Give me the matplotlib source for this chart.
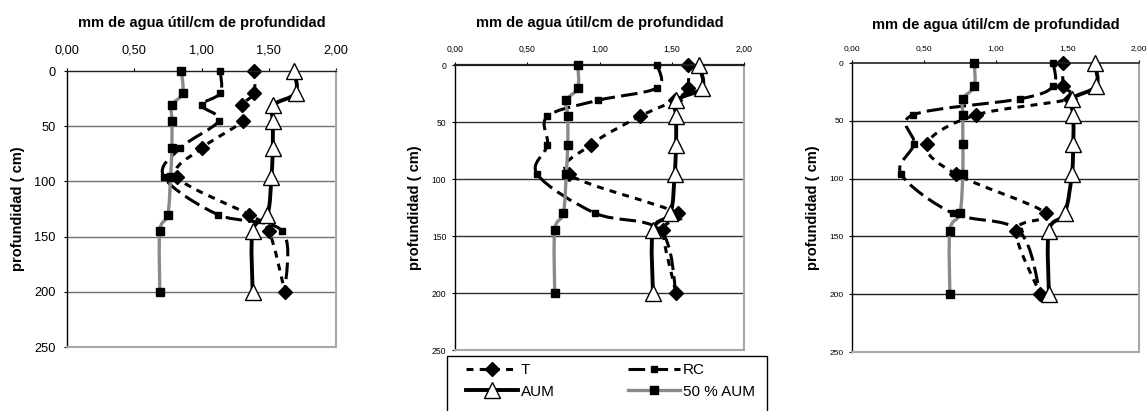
import numpy as np
import matplotlib
matplotlib.use("Agg")
import matplotlib.pyplot as plt
from matplotlib.path import Path
from matplotlib.patches import PathPatch, Rectangle
from matplotlib.lines import Line2D
from matplotlib.ticker import FuncFormatter

plt.rcParams['font.family'] = ['Liberation Sans', 'DejaVu Sans']
plt.rcParams['lines.scale_dashes'] = False

# depths (cm) of every reading
depth = [0, 20, 31, 45, 70, 96, 130, 145, 200]

# mm de agua util / cm, one list per series and panel
t1 = [1.39, 1.39, 1.30, 1.31, 1.00, 0.82, 1.35, 1.50, 1.62]
rc1 = [1.14, 1.14, 1.00, 1.13, 0.84, 0.72, 1.12, 1.60, 1.62]
aum1 = [1.69, 1.70, 1.53, 1.53, 1.53, 1.52, 1.49, 1.38, 1.38]
half1 = [0.85, 0.86, 0.78, 0.78, 0.78, 0.77, 0.75, 0.69, 0.69]

t2 = [1.61, 1.61, 1.52, 1.28, 0.94, 0.79, 1.54, 1.44, 1.53]
rc2 = [1.40, 1.40, 0.99, 0.64, 0.64, 0.57, 0.97, 1.42, 1.53]
aum2 = [1.69, 1.71, 1.53, 1.53, 1.53, 1.52, 1.49, 1.37, 1.37]
half2 = [0.85, 0.85, 0.77, 0.78, 0.78, 0.77, 0.75, 0.69, 0.69]

t3 = [1.47, 1.47, 1.52, 0.86, 0.52, 0.72, 1.35, 1.14, 1.31]
rc3 = [1.40, 1.40, 1.17, 0.42, 0.43, 0.34, 0.70, 1.16, 1.31]
aum3 = [1.69, 1.70, 1.53, 1.54, 1.54, 1.53, 1.48, 1.37, 1.37]
half3 = [0.85, 0.85, 0.77, 0.77, 0.77, 0.77, 0.75, 0.68, 0.68]

labels = ['T', 'RC', 'AUM', '50 % AUM']
x_ticks = [0, 0.5, 1.0, 1.5, 2.0]
y_ticks = [0, 50, 100, 150, 200, 250]
title = 'mm de agua útil/cm de profundidad'
ylabel = 'profundidad ( cm)'

W, H = 1147, 411

# line / marker style per series
styles = [
    dict(color='black', lw=2.2, ls=(0, (5, 4.5)), marker='D', ms=7, mfc='black', mec='black'),
    dict(color='black', lw=2.2, ls=(0, (12, 4.5)), marker='s', ms=4.5, mfc='black', mec='black'),
    dict(color='black', lw=2.8, ls='-', marker='^', ms=11, mfc='white', mec='black'),
    dict(color='#8a8a8a', lw=2.4, ls='-', marker='s', ms=6, mfc='black', mec='black'),
]


def smooth_path(x, y):
    # excel style smoothed line: bezier through the points
    pts = np.column_stack([x, y]).astype(float)
    n = len(pts)
    verts = [pts[0]]
    codes = [Path.MOVETO]
    for i in range(n - 1):
        p0 = pts[i - 1] if i > 0 else pts[i]
        p1 = pts[i]
        p2 = pts[i + 1]
        p3 = pts[i + 2] if i + 2 < n else pts[i + 1]
        verts += [p1 + (p2 - p0) / 6, p2 - (p3 - p1) / 6, p2]
        codes += [Path.CURVE4] * 3
    return Path(verts, codes)


def panel(fig, box, series, tick_fs, grid_col, title_y, ylab_x, top_lw):
    left, top, right, bottom = box
    ax = fig.add_axes([left / W, 1 - bottom / H, (right - left) / W, (bottom - top) / H])
    ax.set_xlim(0, 2)
    ax.set_ylim(250, 0)
    ax.xaxis.tick_top()
    ax.set_xticks(x_ticks)
    ax.set_yticks(y_ticks)
    ax.xaxis.set_major_formatter(FuncFormatter(lambda v, p: ('%.2f' % v).replace('.', ',')))
    ax.tick_params(axis='x', direction='out', length=2.5, width=0.8, labelsize=tick_fs,
                   pad=tick_fs * 0.9)
    ax.tick_params(axis='y', direction='out', length=2.5, width=0.8, labelsize=tick_fs,
                   pad=tick_fs * 0.6)
    for g in [50, 100, 150, 200]:
        ax.axhline(g, color=grid_col, lw=1.0, zorder=0.5)
    ax.spines['top'].set_color('#202020')
    ax.spines['top'].set_linewidth(top_lw)
    ax.spines['left'].set_color('black')
    ax.spines['left'].set_linewidth(1.0)
    for s in ['right', 'bottom']:
        ax.spines[s].set_color('#a8a8a8')
        ax.spines[s].set_linewidth(1.5)

    for k, (vals, st) in enumerate(zip(series, styles)):
        patch = PathPatch(smooth_path(vals, depth), facecolor='none', edgecolor=st['color'],
                          lw=st['lw'], ls=st['ls'], zorder=2 + k, capstyle='butt')
        ax.add_patch(patch)
        ax.plot(vals, depth, ls='none', marker=st['marker'], ms=st['ms'], mfc=st['mfc'],
                mec=st['mec'], mew=1.0, zorder=2.5 + k, clip_on=False)

    fig.text((left + right) / 2 / W, 1 - title_y / H, title, ha='center', va='center',
             fontsize=10.5, fontweight='bold')
    ax.set_ylabel(ylabel, fontsize=10.5, fontweight='bold')
    ax.yaxis.set_label_coords((ylab_x - left) / (right - left), 0.5)
    return ax


fig = plt.figure(figsize=(W / 100, H / 100), dpi=100)

panel(fig, (67, 71, 336, 347), [t1, rc1, aum1, half1], 9.2, '#707070', 23, 25, 1.0)
panel(fig, (455, 65, 744, 350), [t2, rc2, aum2, half2], 6.2, '#303030', 23, 422, 1.6)
panel(fig, (852.3, 63, 1139.3, 352), [t3, rc3, aum3, half3], 6.0, '#202020', 25, 820, 1.2)

# legend box under the middle panel, cut by the figure edge
fig.patches.append(Rectangle((447 / W, -0.2), (767 - 447) / W, 0.2 + 1 - 356 / H,
                             transform=fig.transFigure, facecolor='white', edgecolor='black',
                             lw=1.0, clip_on=False))
handles = []
for st in styles:
    handles.append(Line2D([], [], color=st['color'], lw=st['lw'], ls=st['ls'], marker=st['marker'],
                          ms=st['ms'], mfc=st['mfc'], mec=st['mec'], mew=1.0))
order = [0, 2, 1, 3]
fig.legend([handles[i] for i in order], [labels[i] for i in order], ncol=2, loc='upper left',
           bbox_to_anchor=(466 / W, 1 - 363 / H), frameon=False, borderpad=0, borderaxespad=0,
           handlelength=3.4, handletextpad=0.2, columnspacing=4.8, labelspacing=0.5,
           fontsize=11)

fig.savefig('out.png', dpi=100)
